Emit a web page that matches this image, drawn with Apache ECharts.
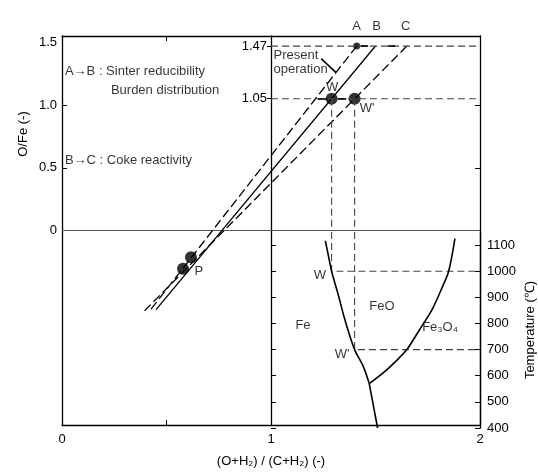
<!DOCTYPE html>
<html>
<head>
<meta charset="utf-8">
<script src="https://cdn.jsdelivr.net/npm/echarts@6/dist/echarts.min.js"></script>
<style>
html, body {margin: 0; padding: 0; background: #fff;}
#main {width: 538px; height: 473px;}
</style>
</head>
<body>
<div id="main"></div>
<script>
// operating lines, O/Fe vs (O+H2)/(C+H2): top end, lower end
var lineA = [[1.41, 1.47], [0.42, -0.64]];
var lineB = [[1.50, 1.47], [0.45, -0.63]];
var lineC = [[1.65, 1.47], [0.395, -0.64]];
var levelsOFe = [1.47, 1.05];
var bigDots = [[1.29, 1.05], [1.40, 1.05], [0.617, -0.213], [0.579, -0.305]];
var smallDots = [[1.41, 1.47]];
// arrows: x0, y0, x1, y1
var arrows = [[1.43, 1.47, 1.465, 1.47], [1.56, 1.47, 1.595, 1.47],
              [1.27, 1.05, 1.225, 1.05], [1.32, 1.05, 1.36, 1.05]];
var leader = [1.24, 1.37, 1.31, 1.26];

// Fe-O phase boundaries, x vs temperature
var feFeO = [[1.26, 1116], [1.274, 1062], [1.29, 1000], [1.322, 909], [1.354, 813],
             [1.40, 700], [1.442, 635], [1.47, 570]];
var feFe3O4 = [[1.47, 570], [1.51, 400]];
var feOFe3O4 = [[1.47, 570], [1.541, 614], [1.598, 656], [1.65, 700], [1.713, 779],
                [1.77, 852], [1.818, 936], [1.85, 1000], [1.88, 1125]];
var tempTicks = [400, 500, 600, 700, 800, 900, 1000, 1100];
var ofeTicks = [0, 0.5, 1.0, 1.5];

// text notes
var notesTop = [
    [0.014, 1.27, 'A\u2192B : Sinter reducibility', 'left'],
    [0.234, 1.118, 'Burden distribution', 'left'],
    [0.014, 0.561, 'B\u2192C : Coke reactivity', 'left'],
    [1.012, 1.339, 'Present\noperation', 'left'],
    [1.41, 1.63, 'A', 'center'],
    [1.505, 1.63, 'B', 'center'],
    [1.645, 1.63, 'C', 'center'],
    [1.292, 1.142, 'W', 'center'],
    [1.46, 0.976, "W'", 'center'],
    [0.655, -0.323, 'P', 'center']
];
var notesLow = [
    [1.153, 794, 'Fe'],
    [1.531, 867, 'FeO'],
    [1.809, 786, 'Fe\u2083O\u2084'],
    [1.234, 985, 'W'],
    [1.34, 683, "W'"]
];

var chart = echarts.init(document.getElementById('main'));
var font = 'Liberation Sans, Arial, sans-serif';
var ink = '#000';

// gi 0: O/Fe diagram, gi 1: Fe-O diagram (lower right)
function seg(pts, gi, type, width, color) {
    return {
        type: 'line', xAxisIndex: gi === 0 ? 0 : 2, yAxisIndex: gi === 0 ? 0 : 3,
        data: pts, symbol: 'none', silent: true, animation: false,
        lineStyle: {color: color || ink, width: width || 1.2, type: type || 'solid'}
    };
}

function notes(list, gi) {
    return {
        type: 'scatter', xAxisIndex: gi === 0 ? 0 : 2, yAxisIndex: gi === 0 ? 0 : 3,
        symbolSize: 0, clip: false, silent: true, animation: false,
        data: list.map(function(n) {
            return {name: n[2], value: [n[0], n[1]], label: {align: n[3] || 'center'}};
        }),
        label: {
            show: true, position: 'inside', formatter: '{b}',
            color: ink, fontFamily: font, fontSize: 13, lineHeight: 14
        }
    };
}

var dash = [7, 4];
var series = [
    seg([[0, 0], [2, 0]], 0, 'solid', 1, '#555'),
    seg(lineA, 0, [9, 4], 1.3),
    seg(lineB, 0, 'solid', 1.3),
    seg(lineC, 0, [9, 4], 1.3),
    seg([[1, levelsOFe[0]], [2, levelsOFe[0]]], 0, dash, 1.2, '#444'),
    seg([[1, levelsOFe[1]], [2, levelsOFe[1]]], 0, dash, 1.2, '#444'),
    seg([[1.29, 1.05], [1.29, 0]], 0, dash, 1.1, '#444'),
    seg([[1.40, 1.05], [1.40, 0]], 0, dash, 1.1, '#444'),
    {
        type: 'scatter', xAxisIndex: 0, yAxisIndex: 0, data: bigDots,
        symbolSize: 12, itemStyle: {color: '#000'}, silent: true, animation: false
    },
    {
        type: 'scatter', xAxisIndex: 0, yAxisIndex: 0, data: smallDots,
        symbolSize: 7, itemStyle: {color: '#000'}, silent: true, animation: false,
        markLine: {
            silent: true, animation: false, symbol: ['none', 'arrow'], symbolSize: [0, 8],
            label: {show: false},
            lineStyle: {color: '#000', width: 1.6, type: 'solid'},
            data: arrows.concat([leader]).map(function(a) {
                return [{coord: [a[0], a[1]]}, {coord: [a[2], a[3]]}];
            })
        }
    },
    notes(notesTop, 0),

    // lower right: Fe-O equilibrium diagram
    seg([[1.29, 1150], [1.29, 1000], [2, 1000]], 1, dash, 1.1, '#444'),
    seg([[1.40, 1150], [1.40, 700], [2, 700]], 1, dash, 1.1, '#444'),
    Object.assign(seg(feFeO, 1, 'solid', 1.6), {smooth: 0.3}),
    seg(feFe3O4, 1, 'solid', 1.6),
    Object.assign(seg(feOFe3O4, 1, 'solid', 1.6), {smooth: 0.3}),
    notes(notesLow, 1)
];

chart.setOption({
    animation: false,
    textStyle: {fontFamily: font},
    grid: [
        {left: 62, right: 58, top: 36, bottom: 45},
        {left: 271, right: 58, top: 232, bottom: 45}
    ],
    xAxis: [
        {
            gridIndex: 0, type: 'value', min: 0, max: 2, interval: 1,
            position: 'bottom',
            axisLine: {onZero: false, lineStyle: {color: ink, width: 1.3}},
            axisTick: {inside: true, length: 5, customValues: [0.5], lineStyle: {color: ink}},
            axisLabel: {color: ink, fontSize: 13, margin: 8, fontFamily: font},
            splitLine: {show: false},
            name: '(O+H\u2082) / (C+H\u2082) (-)', nameLocation: 'middle', nameGap: 30,
            nameTextStyle: {color: ink, fontSize: 13, fontFamily: font}
        },
        {
            gridIndex: 0, type: 'value', min: 0, max: 2, position: 'top',
            axisLine: {onZero: false, lineStyle: {color: ink, width: 1.3}},
            axisTick: {inside: true, length: 5, customValues: [0.5], lineStyle: {color: ink}},
            axisLabel: {show: false}, splitLine: {show: false}
        },
        {
            gridIndex: 1, type: 'value', min: 1, max: 2, show: false
        }
    ],
    yAxis: [
        {
            gridIndex: 0, type: 'value', min: -1.55, max: 1.55, position: 'left',
            axisLine: {onZero: false, lineStyle: {color: ink, width: 1.3}},
            axisTick: {inside: true, length: 5, customValues: [0.5, 1.0], lineStyle: {color: ink}},
            axisLabel: {
                color: ink, fontSize: 13, margin: 5, fontFamily: font,
                customValues: ofeTicks,
                formatter: function(v) { return v === 0 ? '0' : v.toFixed(1); }
            },
            splitLine: {show: false}
        },
        {
            gridIndex: 0, type: 'value', min: -1.55, max: 1.55, position: 'right',
            axisLine: {onZero: false, lineStyle: {color: ink, width: 1.3}},
            axisTick: {inside: true, length: 5, customValues: [0.5, 1.0], lineStyle: {color: ink}},
            axisLabel: {show: false}, splitLine: {show: false}
        },
        {
            // the x = 1 divider, with the O/Fe levels of the operation
            gridIndex: 0, type: 'value', min: -1.55, max: 1.55, position: 'left', offset: -209,
            axisLine: {show: true, onZero: false, lineStyle: {color: ink, width: 1.3}},
            axisTick: {inside: false, length: 4, customValues: levelsOFe, lineStyle: {color: ink}},
            axisLabel: {
                color: ink, fontSize: 13, margin: 4, fontFamily: font,
                customValues: levelsOFe,
                formatter: function(v) { return v.toFixed(2); }
            },
            splitLine: {show: false}
        },
        {
            gridIndex: 1, type: 'value', min: 400, max: 1150, position: 'right',
            axisLine: {onZero: false, lineStyle: {color: ink, width: 1.3}},
            axisTick: {inside: true, length: 5, customValues: tempTicks, lineStyle: {color: ink}},
            axisLabel: {
                color: ink, fontSize: 13, margin: 7, fontFamily: font, customValues: tempTicks,
                formatter: function(v) { return String(v); }
            },
            splitLine: {show: false},
            name: 'Temperature (\u2103)', nameLocation: 'middle', nameRotate: 90, nameGap: 44,
            nameTextStyle: {color: ink, fontSize: 13, fontFamily: font}
        },
        {
            gridIndex: 1, type: 'value', min: 400, max: 1150, position: 'left',
            axisLine: {show: false, onZero: false},
            axisTick: {inside: true, length: 5, customValues: tempTicks, lineStyle: {color: ink}},
            axisLabel: {show: false}, splitLine: {show: false}
        }
    ],
    graphic: [{
        type: 'text', x: 23, y: 134, rotation: Math.PI / 2,
        style: {
            text: 'O/Fe (-)', fill: ink, font: '13px ' + font,
            textAlign: 'center', textVerticalAlign: 'middle'
        }
    }],
    series: series
});
</script>
</body>
</html>
